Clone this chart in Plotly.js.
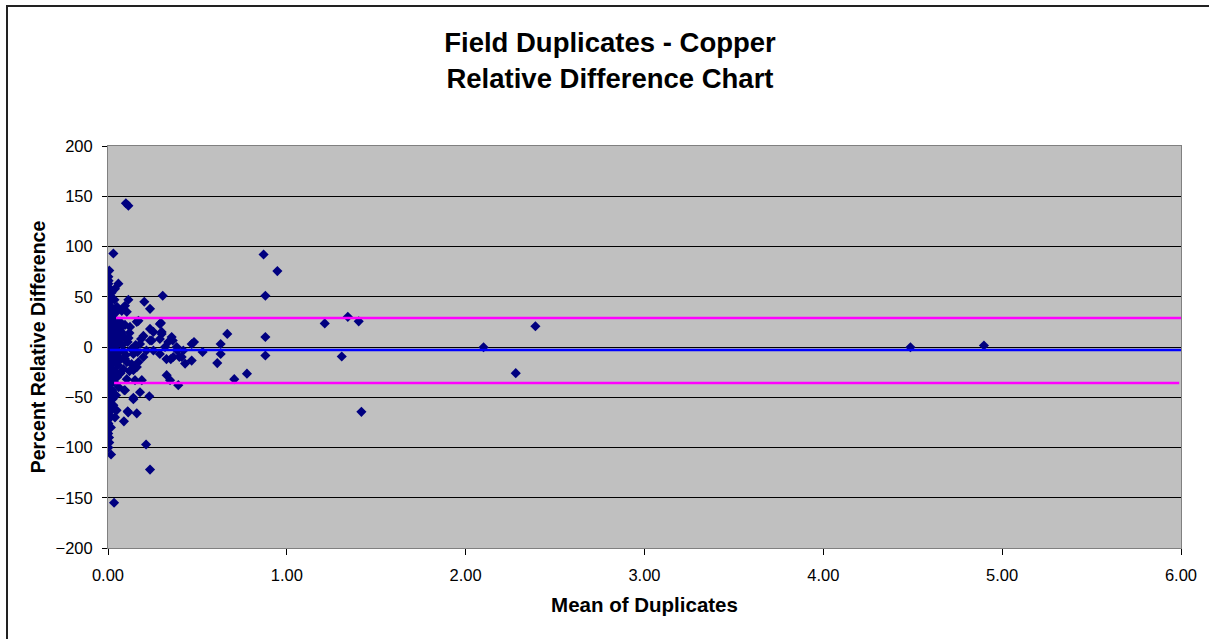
<!DOCTYPE html>
<html>
<head>
<meta charset="utf-8">
<script src="https://cdn.plot.ly/plotly-3.0.1.min.js"></script>
<style>
  html, body { margin: 0; padding: 0; background: #ffffff; }
  #wrap { position: relative; width: 1209px; height: 639px; overflow: hidden; }
  #chart { width: 1209px; height: 639px; }
  #frame { position: absolute; left: 6px; top: 5px; width: 1220px; height: 700px;
           border-left: 2px solid #222; border-top: 2px solid #222; pointer-events: none; }
</style>
</head>
<body>
<div id="wrap">
  <div id="chart"></div>
  <div id="frame"></div>
</div>
<script>
// Mean of duplicates (x) and percent relative difference (y)
const meanDup = [
  0.007,0.002,0.002,0.012,0.020,0.002,0.011,0.004,0.030,0.001,0.008,0.015,0.002,0.022,0.005,0.013,0.001,0.018,0.006,0.027,
  0.002,0.012,0.004,0.021,0.001,0.009,0.016,0.003,0.025,0.006,0.014,0.001,0.019,0.008,0.003,0.023,0.011,0.002,0.016,0.030,
  0.005,0.002,0.013,0.002,0.009,0.002,0.001,0.007,0.017,0.034,
  0.035,0.045,0.040,0.055,0.030,0.050,0.038,0.060,0.045,0.032,0.055,0.040,0.050,0.035,0.060,0.045,0.025,0.070,0.065,0.075,
  0.070,0.080,0.085,0.028,0.024,0.042,0.050,0.036,0.025,0.060,0.070,0.090,0.100,0.095,0.110,0.120,0.105,0.130,0.115,0.120,
  0.030,0.058,0.039,0.095,0.077,0.105,0.114,0.067,0.203,0.235,0.306,0.170,0.296,0.235,0.161,0.290,0.123,0.198,0.254,0.300,
  0.235,0.290,0.337,0.356,0.319,0.384,0.421,0.412,0.365,0.254,0.179,0.142,0.198,0.132,0.095,0.086,0.142,0.105,0.328,0.347,
  0.393,0.179,0.095,0.231,0.142,0.161,0.113,0.089,0.048,0.039,0.213,0.235,0.100,0.114,0.870,0.947,0.880,0.880,0.880,0.529,
  0.468,0.481,0.468,0.431,0.399,0.387,0.362,0.351,0.630,0.667,0.630,0.611,0.706,0.777,1.212,1.341,1.402,1.307,1.417,2.100,
  2.390,2.280,4.487,4.898,0.300,0.245,0.215,0.290,0.327,0.161,0.170,0.151,0.189,0.091,0.110,0.142,0.155,0.165,0.185,
  0.003,0.010,0.004,0.014,0.002,0.008,0.019,0.005,0.012,0.003,0.016,0.006,0.002,0.010,0.004
];
const relDiff = [
  76,70,63,58,54,48,41,44,33,37,30,27,24,21,18,15,12,9,6,4,
  1,-1,-4,-7,-10,-13,-16,-19,-22,-25,-28,-31,-34,-37,-40,-43,-46,-49,-52,-58,
  -55,-61,-64,-67,-70,-76,-86,-95,-107,-155,
  28,22,16,12,8,3,-2,-5,-9,-14,-18,-24,-30,-35,-40,-48,-52,-26,8,15,
  -12,2,-4,12,-3,34,40,47,38,25,19,10,-8,22,5,14,-15,-2,9,-24,
  93,63,58,41,36,35,47,25,45,38,51,26,24,18,25,23,20,11,15,15,
  6.5,8,5,10,0,0,-3.5,-10,-10,-3.5,3,-7,-10,-17,-12,-22,-23,-32,-28,-33,
  -38,-45,-43,-49,-50.5,-66,-65,-74,-63,-70,-97,-122,143,140.5,92,75.5,51,10,-8.5,-5,
  3,5,-13.5,-16.5,-10,-3.5,6.5,-12,3,13,-7,-16,-32,-26.5,23.5,30,25.5,-9.5,-64.5,-0.2,
  20.7,-26,-0.2,1.5,13,6.5,-3.5,-7,-12,-20,-15,-33,-33,-43,-64,-52,2,-5,8,
  66,51,35,19,-2,-20,-36,-44,-58,-72,-80,-90,-100,-26,-11
];
// Reference lines: mean and mean +/- 2 std. dev.
const meanLineX = [0.01, 6.0];
const meanLineY = [-3, -3];
const upperLineX = [0.045, 6.0];
const upperLineY = [28.9, 28.9];
const lowerLineX = [0.034, 5.99];
const lowerLineY = [-35.8, -35.8];

const xTickVals = [0, 1, 2, 3, 4, 5, 6];
const xTickText = ["0.00","1.00","2.00","3.00","4.00","5.00","6.00"];
const yTickVals = [-200,-150,-100,-50,0,50,100,150,200];

const traces = [
  { type: 'scatter', mode: 'markers', x: meanDup, y: relDiff, name: 'Duplicates',
    marker: { symbol: 'diamond', size: 7.8, color: '#000080', line: { width: 0 } },
    cliponaxis: true },
  { type: 'scatter', mode: 'lines', x: meanLineX, y: meanLineY, name: 'Mean',
    line: { color: '#0000FF', width: 2.5 } },
  { type: 'scatter', mode: 'lines', x: upperLineX, y: upperLineY, name: 'Upper',
    line: { color: '#FF00FF', width: 2.5 } },
  { type: 'scatter', mode: 'lines', x: lowerLineX, y: lowerLineY, name: 'Lower',
    line: { color: '#FF00FF', width: 2.5 } }
];

const layout = {
  width: 1209, height: 639,
  margin: { l: 108, r: 28, t: 146, b: 91 },
  paper_bgcolor: '#ffffff',
  plot_bgcolor: '#c0c0c0',
  showlegend: false,
  font: { family: 'Liberation Sans, Arial, sans-serif', color: '#000000', size: 16 },
  title: {
    text: '<b>Field Duplicates - Copper</b><br><b>Relative Difference Chart</b>',
    font: { size: 27.5, family: 'Liberation Sans, Arial, sans-serif', color: '#000000' },
    x: 610 / 1209, xref: 'container', xanchor: 'center',
    y: 1 - 52 / 639, yref: 'container', yanchor: 'top'
  },
  xaxis: {
    range: [0, 6], tickvals: xTickVals, ticktext: xTickText,
    showgrid: false, zeroline: false,
    showline: true, linecolor: '#808080', linewidth: 1, mirror: true,
    ticks: 'outside', ticklen: 6, tickcolor: '#000000', ticklabelstandoff: 6,
    tickfont: { size: 16.5 },
    title: { text: '<b>Mean of Duplicates</b>', font: { size: 20.5 }, standoff: 14 }
  },
  yaxis: {
    range: [-200, 200], tickvals: yTickVals,
    showgrid: true, gridcolor: '#000000', gridwidth: 1, zeroline: false,
    showline: true, linecolor: '#808080', linewidth: 1, mirror: true,
    ticks: 'outside', ticklen: 5, tickcolor: '#000000', ticklabelstandoff: 6,
    tickfont: { size: 16.5 },
    title: { text: '<b>Percent Relative Difference</b>', font: { size: 19.5 }, standoff: 4 }
  }
};

Plotly.newPlot('chart', traces, layout, { displayModeBar: false, staticPlot: true });
</script>
</body>
</html>
